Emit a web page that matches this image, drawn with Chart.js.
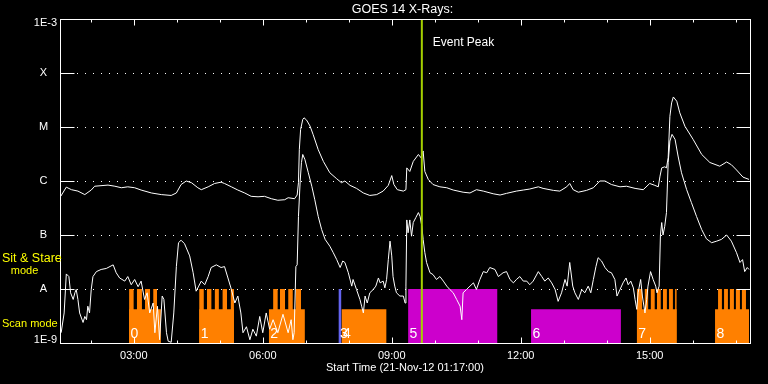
<!DOCTYPE html>
<html><head><meta charset="utf-8">
<style>html,body{margin:0;padding:0;background:#000;overflow:hidden}canvas{display:block}</style>
<script src="https://cdn.jsdelivr.net/npm/chart.js@4.4.1/dist/chart.umd.min.js"></script>
</head><body>
<canvas id="c" width="768" height="384"></canvas>
<script>
// ---- Data (time in decimal hours UT on 21-Nov-12, flux in W/m^2) ----
const startHour = 1 + 17/60;   // 01:17
const endHour = 17 + 20/60;    // 17:20

const longTime = [1.30,1.43,1.55,1.70,1.86,2.01,2.09,2.40,2.56,2.71,2.86,3.02,3.17,3.41,3.64,3.87,3.99,4.10,4.22,4.34,4.49,4.57,4.73,4.88,5.03,5.11,5.27,5.42,5.58,5.73,5.89,6.04,6.20,6.35,6.51,6.59,6.74,6.80,6.83,6.85,6.88,6.93,6.96,7.02,7.10,7.17,7.29,7.41,7.56,7.72,7.83,7.91,8.03,8.18,8.34,8.49,8.65,8.80,8.92,9.00,9.05,9.13,9.27,9.33,9.35,9.42,9.50,9.62,9.68,9.73,9.77,9.85,9.96,10.12,10.28,10.43,10.66,10.82,10.97,11.13,11.36,11.52,11.67,11.90,12.06,12.21,12.41,12.52,12.76,12.91,13.07,13.14,13.22,13.34,13.53,13.69,13.84,13.96,14.11,14.31,14.46,14.66,14.85,15.00,15.12,15.20,15.24,15.28,15.35,15.39,15.43,15.47,15.51,15.55,15.63,15.70,15.82,16.01,16.21,16.40,16.63,16.79,16.90,17.02,17.17,17.31];
const longFlux = [5.2e-7,7.7e-7,6.9e-7,6.5e-7,5.6e-7,6.8e-7,8.0e-7,8.4e-7,8.0e-7,7.5e-7,7.8e-7,7.5e-7,6.8e-7,6.0e-7,5.6e-7,5.4e-7,6.0e-7,8.6e-7,1.0e-6,9.3e-7,7.5e-7,6.9e-7,7.8e-7,9.0e-7,9.5e-7,9.0e-7,7.8e-7,6.8e-7,6.0e-7,5.2e-7,5.1e-7,5.2e-7,4.7e-7,4.4e-7,4.5e-7,4.9e-7,4.7e-7,5.5e-7,9.3e-7,3.8e-6,9.0e-6,1.38e-5,1.48e-5,1.34e-5,1.04e-5,7.3e-6,3.8e-6,2.3e-6,1.42e-6,1.1e-6,9.3e-7,1.0e-6,8.3e-7,7.3e-7,6.0e-7,5.4e-7,5.6e-7,6.5e-7,8.3e-7,1.26e-6,8.6e-7,6.9e-7,6.5e-7,6.9e-7,1.75e-6,1.5e-6,2.3e-6,3.1e-6,2.7e-6,3.6e-6,1.5e-6,1.07e-6,8.6e-7,7.8e-7,7.5e-7,6.8e-7,6.2e-7,6.0e-7,6.9e-7,6.5e-7,5.8e-7,5.5e-7,5.9e-7,6.5e-7,6.8e-7,7.1e-7,7.8e-7,7.3e-7,6.7e-7,6.5e-7,7.8e-7,9.0e-7,6.9e-7,6.2e-7,6.7e-7,7.5e-7,1.0e-6,1.0e-6,8.6e-7,7.8e-7,8.0e-7,7.3e-7,6.9e-7,9.0e-7,8.3e-7,7.8e-7,1.23e-6,1.75e-6,1.83e-6,1.75e-6,2.7e-6,1.58e-5,2.8e-5,3.6e-5,3.0e-5,1.83e-5,1.03e-5,5.9e-6,3.1e-6,2.2e-6,1.88e-6,2.25e-6,2.0e-6,1.6e-6,1.18e-6,1.07e-6];

const shortTime = [1.31,1.38,1.43,1.49,1.53,1.59,1.63,1.66,1.70,1.74,1.82,1.86,1.90,1.93,1.97,2.01,2.05,2.13,2.24,2.36,2.52,2.59,2.67,2.79,2.86,2.94,3.02,3.10,3.17,3.25,3.31,3.37,3.45,3.49,3.55,3.60,3.66,3.70,3.76,3.80,3.87,3.93,3.99,4.04,4.10,4.18,4.30,4.38,4.45,4.51,4.57,4.65,4.73,4.80,4.92,5.03,5.11,5.19,5.27,5.35,5.42,5.49,5.54,5.62,5.70,5.77,5.85,5.93,6.00,6.08,6.16,6.24,6.35,6.47,6.59,6.66,6.70,6.73,6.77,6.80,6.83,6.87,6.90,6.93,6.98,7.06,7.14,7.21,7.29,7.37,7.45,7.56,7.64,7.72,7.80,7.86,7.91,7.99,8.07,8.10,8.18,8.26,8.30,8.34,8.38,8.43,8.49,8.57,8.63,8.69,8.73,8.80,8.84,8.88,8.92,8.96,9.00,9.03,9.07,9.11,9.19,9.27,9.31,9.33,9.35,9.38,9.42,9.46,9.50,9.56,9.62,9.66,9.70,9.73,9.77,9.81,9.89,9.96,10.04,10.12,10.20,10.28,10.35,10.43,10.51,10.59,10.63,10.66,10.74,10.82,10.90,10.97,11.05,11.13,11.21,11.28,11.40,11.48,11.59,11.67,11.75,11.83,11.90,11.98,12.06,12.14,12.21,12.29,12.41,12.49,12.56,12.64,12.72,12.80,12.87,12.95,13.03,13.08,13.14,13.21,13.26,13.34,13.42,13.49,13.57,13.63,13.69,13.75,13.80,13.88,13.96,14.04,14.11,14.19,14.24,14.31,14.38,14.45,14.50,14.56,14.62,14.66,14.70,14.73,14.79,14.83,14.89,14.93,14.96,15.02,15.08,15.14,15.17,15.22,15.25,15.28,15.31,15.35,15.39,15.43,15.47,15.52,15.59,15.66,15.74,15.86,15.97,16.09,16.21,16.32,16.44,16.56,16.67,16.79,16.90,17.02,17.10,17.16,17.21,17.27,17.31];
const shortFlux = [1.55e-9,3.6e-9,1.9e-8,1.7e-8,8.5e-9,6.4e-9,8.5e-9,9.8e-9,6.4e-9,3.6e-9,2.4e-9,3.1e-9,2.7e-9,4.8e-9,3.6e-9,9.8e-9,1.7e-8,2.1e-8,2.3e-8,2.4e-8,2.8e-8,2.0e-8,1.6e-8,1.4e-8,1.7e-8,1.2e-8,1.5e-8,1.1e-8,1.4e-8,6.4e-9,8.5e-9,3.6e-9,5.5e-9,1.55e-9,4.8e-9,1.15e-9,7.4e-9,6.4e-9,1.55e-9,1.08e-9,1.03e-9,3.6e-9,2.6e-8,7.2e-8,8.0e-8,6.9e-8,4.1e-8,2.0e-8,9.1e-9,1.13e-8,1.4e-8,1.2e-8,1.7e-8,2.5e-8,2.8e-8,2.5e-8,2.6e-8,1.6e-8,9.8e-9,5.5e-9,7.4e-9,3.6e-9,1.55e-9,2.0e-9,1.15e-9,1.8e-9,1.34e-9,3.1e-9,1.55e-9,3.6e-9,1.8e-9,2.7e-9,1.55e-9,3.4e-9,1.55e-9,2.7e-9,1.15e-9,1.55e-9,2.6e-8,2.8e-8,2.2e-7,1.0e-6,2.2e-6,3.1e-6,2.5e-6,1.42e-6,8.0e-7,4.5e-7,2.2e-7,1.26e-7,8.3e-8,6.2e-8,4.7e-8,3.5e-8,2.5e-8,3.3e-8,3.1e-8,2.0e-8,1.13e-8,1.5e-8,9.8e-9,6.4e-9,4.8e-9,3.6e-9,7.4e-9,5.5e-9,8.5e-9,9.8e-9,1.13e-8,1.6e-8,1.3e-8,1.4e-8,1.05e-8,1.5e-8,3.5e-8,7.7e-8,4.1e-8,1.7e-8,1.13e-8,8.5e-9,7.4e-9,7.4e-9,5.5e-9,1.13e-8,1.9e-7,1.1e-7,1.9e-7,9.5e-8,1.7e-7,2.1e-7,2.6e-7,2.2e-7,1.45e-7,8.3e-8,4.7e-8,3.1e-8,2.0e-8,1.85e-8,1.5e-8,1.7e-8,1.4e-8,1.13e-8,9.8e-9,8.5e-9,6.4e-9,4.8e-9,2.7e-9,8.5e-9,9.8e-9,1.13e-8,1.3e-8,9.8e-9,1.5e-8,2.1e-8,2.0e-8,2.5e-8,2.3e-8,1.7e-8,2.0e-8,2.1e-8,1.5e-8,1.3e-8,1.5e-8,1.7e-8,1.4e-8,1.4e-8,1.2e-8,1.4e-8,2.1e-8,1.7e-8,1.4e-8,1.6e-8,1.3e-8,9.8e-9,5.9e-9,8.5e-9,1.5e-8,1.13e-8,3.1e-8,1.13e-8,8.5e-9,6.4e-9,9.8e-9,8.5e-9,1.13e-8,8.5e-9,1.5e-8,2.6e-8,3.8e-8,3.3e-8,2.5e-8,2.1e-8,2.0e-8,1.5e-8,7.4e-9,9.8e-9,1.3e-8,1.6e-8,1.2e-8,1.4e-8,1.05e-8,6.4e-9,4.2e-9,8.5e-9,1.5e-8,7.4e-9,3.6e-9,6.4e-9,1.13e-8,2.1e-8,1.5e-8,1.13e-8,8.5e-9,1.13e-8,1.0e-7,1.7e-7,1.0e-7,1.45e-7,2.6e-7,2.2e-6,5.5e-6,7.3e-6,5.9e-6,2.9e-6,1.42e-6,6.9e-7,4.0e-7,2.2e-7,1.26e-7,8.5e-8,7.2e-8,7.7e-8,8.3e-8,1.0e-7,7.7e-8,4.7e-8,3.1e-8,3.5e-8,2.1e-8,2.5e-8,2.3e-8];

// Observation rasters (IRIS-style timeline)
const rasterLabel = ['0','1','2','3','4','5','6','7','8'];
const rasterStart = [2.89,4.52,6.14,7.76,7.83,9.38,12.24,14.70,16.52];
const rasterEnd   = [3.63,5.33,6.98,7.83,8.88,11.46,14.33,15.63,17.31];
const rasterMode  = ['scan','scan','scan','stare','scan','stare','scan','scan','scan'];
const rasterKind  = ['orange','orange','orange','blue','orange','magenta','magenta','orange','orange'];
// sit & stare intervals inside the scan rasters
const stareStart = [2.89,3.07,3.26,3.45, 4.52,4.70,4.88,5.06,5.25, 6.24,6.40,6.59,6.76, 14.70,14.88,15.02,15.17,15.31,15.45,15.59, 16.59,16.73,16.86,17.00,17.14];
const stareEnd   = [3.00,3.19,3.38,3.54, 4.63,4.81,4.98,5.17,5.33, 6.35,6.52,6.70,6.89, 14.83,14.97,15.12,15.26,15.40,15.54,15.63, 16.68,16.82,16.96,17.10,17.24];
const modeLevel = {scan: 4.2e-9, stare: 1e-8};

const eventPeakHour = 9.70;

const xTickHours = [2,3,4,5,6,7,8,9,10,11,12,13,14,15,16,17];
const xLabelHours = [3,6,9,12,15];
const xLabels = ['03:00','06:00','09:00','12:00','15:00'];
const yTickValues = [1e-9,1e-8,1e-7,1e-6,1e-5,1e-4,1e-3];
const yTickLabels = ['1E-9','A','B','C','M','X','1E-3'];

// ---- Styles ----
const kindColor = {orange:'#ff8000', magenta:'#cc00cc', blue:'#6464f0'};
const FONT = '"Liberation Sans", Arial, sans-serif';

const datasets = [];
datasets.push({label:'peak', data:[{x:eventPeakHour,y:1e-9},{x:eventPeakHour,y:1e-3}], borderColor:'#a4d000', borderWidth:2, pointRadius:0, order:-1});
datasets.push({label:'long', data:longTime.map((t,i)=>({x:t,y:longFlux[i]})), borderColor:'#ffffff', borderWidth:1, pointRadius:0, order:0});
datasets.push({label:'short', data:shortTime.map((t,i)=>({x:t,y:shortFlux[i]})), borderColor:'#ffffff', borderWidth:1, pointRadius:0, order:0});
function rect(s,e,level,color){
  return {data:[{x:s,y:level},{x:e,y:level}], fill:'start', backgroundColor:color, borderColor:'rgba(0,0,0,0)', borderWidth:0, pointRadius:0, order:3};
}
rasterStart.forEach((s,i)=>datasets.push(rect(s, rasterEnd[i], modeLevel[rasterMode[i]], kindColor[rasterKind[i]])));
stareStart.forEach((s,i)=>datasets.push(rect(s, stareEnd[i], modeLevel.stare, kindColor.orange)));

const goesAxes = {
  id:'goesAxes',
  beforeDatasetsDraw(chart){
    const {ctx, chartArea:a, scales:{y}} = chart;
    ctx.save();
    ctx.strokeStyle='#fff'; ctx.lineWidth=1; ctx.setLineDash([1,7]);
    yTickValues.slice(1,-1).forEach(v=>{
      const py=Math.round(y.getPixelForValue(v))+0.5;
      ctx.beginPath(); ctx.moveTo(Math.round(a.left)+17, py); ctx.lineTo(Math.round(a.right)-14, py); ctx.stroke();
    });
    ctx.restore();
  },
  afterDraw(chart){
    const {ctx, chartArea:a, scales:{x,y}} = chart;
    ctx.save();
    ctx.strokeStyle='#fff'; ctx.lineWidth=1; ctx.setLineDash([]);
    const L=Math.round(a.left)+0.5, R=Math.round(a.right)+0.5, T=Math.round(a.top)+0.5, B=Math.round(a.bottom)+0.5;
    ctx.strokeRect(L,T,R-L,B-T);
    ctx.beginPath();
    yTickValues.slice(1,-1).forEach(v=>{
      const py=Math.round(y.getPixelForValue(v))+0.5;
      ctx.moveTo(L,py); ctx.lineTo(L+14,py);
      ctx.moveTo(R-14,py); ctx.lineTo(R,py);
    });
    xTickHours.forEach(h=>{
      const px=Math.round(x.getPixelForValue(h))+0.5;
      const len = xLabelHours.includes(h) ? 6 : 3;
      ctx.moveTo(px,B); ctx.lineTo(px,B-len);
      ctx.moveTo(px,T); ctx.lineTo(px,T+len);
    });
    ctx.stroke();

    // raster numbers
    ctx.fillStyle='#fff';
    ctx.font='14px '+FONT; ctx.textAlign='left'; ctx.textBaseline='alphabetic';
    rasterLabel.forEach((l,i)=>{ ctx.fillText(l, x.getPixelForValue(rasterStart[i])+1.5, a.bottom-5); });

    // y labels
    ctx.font='11px '+FONT; ctx.textBaseline='middle';
    yTickValues.forEach((v,i)=>{
      let py=y.getPixelForValue(v);
      py=Math.min(Math.max(py,a.top+4),a.bottom-3.5);
      const t=yTickLabels[i];
      if(t.length>1){ctx.textAlign='right'; ctx.fillText(t,a.left-3,py);}
      else {ctx.textAlign='center'; ctx.fillText(t,a.left-16.5,py);}
    });
    // x labels
    ctx.textAlign='center';
    xLabelHours.forEach((h,i)=>ctx.fillText(xLabels[i], x.getPixelForValue(h), a.bottom+12.5));
    ctx.fillText('Start Time (21-Nov-12 01:17:00)', (a.left+a.right)/2, a.bottom+25);
    // title
    ctx.font='12.5px '+FONT;
    ctx.fillText('GOES 14 X-Rays:', (a.left+a.right)/2-2.5, a.top-9.5);
    // event peak
    ctx.font='12px '+FONT; ctx.textAlign='left';
    ctx.fillText('Event Peak', x.getPixelForValue(eventPeakHour)+11, a.top+24);
    // mode labels
    ctx.fillStyle='#ffff00';
    ctx.font='12.5px '+FONT; ctx.textAlign='left'; ctx.fillText('Sit & Stare', 2, 259);
    ctx.font='11px '+FONT;
    ctx.textAlign='center'; ctx.fillText('mode', 24.5, 271);
    ctx.textAlign='left'; ctx.fillText('Scan mode', 2, 324);
    ctx.restore();
  }
};

new Chart(document.getElementById('c'), {
  type:'line',
  data:{datasets},
  options:{
    responsive:false, animation:false, devicePixelRatio:1, events:[],
    layout:{padding:{left:60, top:19, right:18, bottom:41}},
    plugins:{legend:{display:false}, tooltip:{enabled:false}, title:{display:false}},
    elements:{line:{tension:0}},
    scales:{
      x:{type:'linear', min:startHour, max:endHour, display:false},
      y:{type:'logarithmic', min:1e-9, max:1e-3, display:false}
    }
  },
  plugins:[goesAxes]
});
</script>
</body></html>
